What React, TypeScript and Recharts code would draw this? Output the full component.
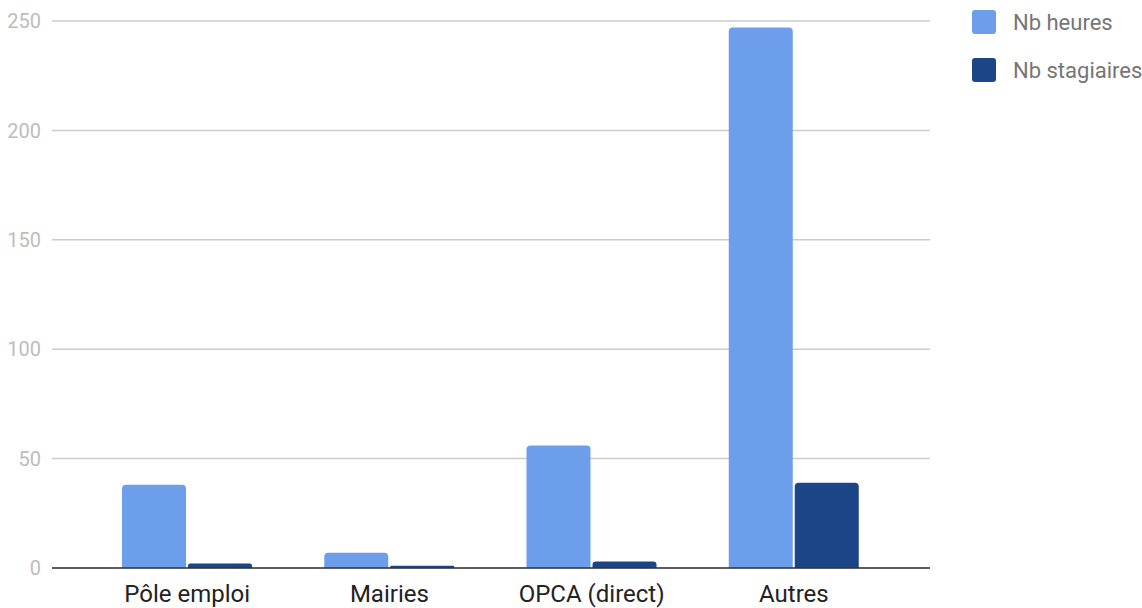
import { BarChart, Bar, XAxis, YAxis, CartesianGrid } from 'recharts'

const categories = ['Pôle emploi', 'Mairies', 'OPCA (direct)', 'Autres']
const heures = [38, 7, 56, 247]
const stagiaires = [2, 1, 3, 39]
const yTicks = [0, 50, 100, 150, 200, 250]

const LIGHT = '#6d9eeb'
const DARK = '#1c4587'

const data = categories.map((name, i) => ({ name, heures: heures[i], stagiaires: stagiaires[i] }))

const series = [
  { key: 'heures', label: 'Nb heures', color: LIGHT },
  { key: 'stagiaires', label: 'Nb stagiaires', color: DARK },
]

// legend drawn outside the chart so it does not eat into the plot area
function LegendBox() {
  return (
    <div style={{ position: 'absolute', left: 972, top: -2, fontFamily: 'Roboto, sans-serif' }}>
      {series.map(s => (
        <div key={s.key} style={{ display: 'flex', alignItems: 'center', height: 48 }}>
          <div style={{ width: 24, height: 24, borderRadius: 3, background: s.color, marginRight: 17 }} />
          <span style={{ fontSize: 22, color: '#757575', whiteSpace: 'nowrap' }}>{s.label}</span>
        </div>
      ))}
    </div>
  )
}

export default function App() {
  return (
    <div style={{ position: 'absolute', left: 0, top: 0, width: 1142, height: 608, background: '#fff', overflow: 'hidden' }}>
      <BarChart
        width={1142}
        height={608}
        data={data}
        margin={{ top: 21, right: 212, bottom: 0, left: 0 }}
        barGap={2}
        barSize={64}
        style={{ fontFamily: 'Roboto, sans-serif' }}
      >
        <CartesianGrid vertical={false} stroke="#cccccc" strokeWidth={1.5} />
        <XAxis
          dataKey="name"
          height={40}
          padding={{ left: 34, right: 35 }}
          tickLine={false}
          tickSize={0}
          tickMargin={17}
          axisLine={{ stroke: '#333333', strokeWidth: 1.5 }}
          tick={{ fontSize: 24, fill: '#222222' }}
        />
        <YAxis
          width={52}
          domain={[0, 250]}
          ticks={yTicks}
          tickLine={false}
          axisLine={false}
          tickSize={0}
          tickMargin={11}
          tick={{ fontSize: 20, fill: '#bdbdbd' }}
        />
        {series.map(s => (
          <Bar key={s.key} dataKey={s.key} name={s.label} fill={s.color} radius={[4, 4, 0, 0]} isAnimationActive={false} />
        ))}
      </BarChart>
      <LegendBox />
    </div>
  )
}
